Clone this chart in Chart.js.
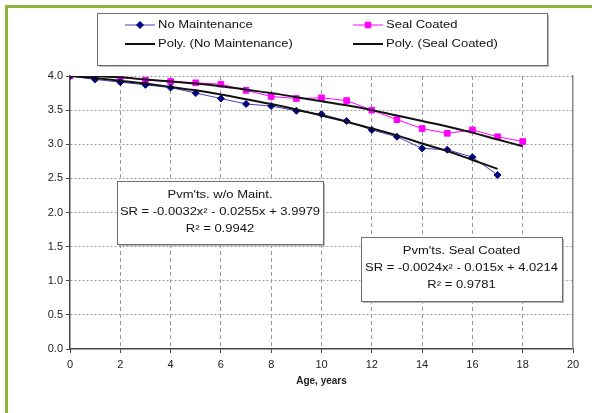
<!DOCTYPE html>
<html>
<head>
<meta charset="utf-8">
<script src="https://cdn.jsdelivr.net/npm/chart.js@4/dist/chart.umd.min.js"></script>
<style>
  html, body { margin: 0; padding: 0; background: #fff; }
  #wrap { position: relative; width: 592px; height: 413px; overflow: hidden; }
  #frame { position: absolute; left: 5px; top: 5px; right: 0; bottom: 0; border-top: 3px solid #8cb43c; border-left: 3px solid #8cb43c; }
  #chart { position: absolute; left: 0; top: 0; }
</style>
</head>
<body>
<div id="wrap">
  <div id="frame"></div>
  <canvas id="chart" width="592" height="413"></canvas>
</div>
<script>
// values
const years = [0, 1, 2, 3, 4, 5, 6, 7, 8, 9, 10, 11, 12, 13, 14, 15, 16, 17, 18];
const noMaint = [4.00, 3.95, 3.91, 3.87, 3.83, 3.75, 3.67, 3.59, 3.56, 3.49, 3.44, 3.34, 3.21, 3.11, 2.94, 2.92, 2.81, 2.55];
const sealCoated = [4.00, 4.00, 3.98, 3.94, 3.92, 3.90, 3.88, 3.79, 3.70, 3.67, 3.68, 3.64, 3.50, 3.36, 3.23, 3.16, 3.21, 3.11, 3.04];
const polyNoMaint = [4.00, 3.97, 3.93, 3.89, 3.84, 3.79, 3.73, 3.66, 3.59, 3.51, 3.42, 3.33, 3.23, 3.13, 3.01, 2.90, 2.77, 2.64];
const polySeal = [4.02, 4.00, 3.98, 3.95, 3.92, 3.89, 3.85, 3.80, 3.75, 3.69, 3.63, 3.57, 3.50, 3.42, 3.34, 3.26, 3.17, 3.07, 2.97];

const seriesNames = ['No Maintenance', 'Seal Coated', 'Poly. (No Maintenance)', 'Poly. (Seal Coated)'];
const noteNoMaint = ["Pvm'ts. w/o Maint.", 'SR = -0.0032x² - 0.0255x + 3.9979', 'R² = 0.9942'];
const noteSeal = ["Pvm'ts. Seal Coated", 'SR = -0.0024x² - 0.015x + 4.0214', 'R² = 0.9781'];

const FONT = "'Liberation Sans', Arial, sans-serif";
const toPoints = vals => vals.map((v, i) => ({ x: years[i], y: v }));

function wideText(ctx, text, x, y) {
  ctx.save();
  ctx.translate(x, y);
  ctx.scale(1.3, 1);
  ctx.fillText(text, 0, 0);
  ctx.restore();
}

function drawBox(ctx, x, y, w, h) {
  ctx.save();
  ctx.fillStyle = '#b8b8b8';
  ctx.fillRect(x + 2, y + 2, w, h);
  ctx.fillStyle = '#fff';
  ctx.fillRect(x, y, w, h);
  ctx.strokeStyle = '#6e6e6e';
  ctx.lineWidth = 1;
  ctx.strokeRect(x + 0.5, y + 0.5, w, h);
  ctx.restore();
}

const extras = {
  id: 'extras',
  afterDraw(chart) {
    const ctx = chart.ctx;
    const ds = chart.data.datasets;

    // legend, 2 x 2
    drawBox(ctx, 97, 13, 450, 52);
    const slots = [
      { d: ds[0], x: 125, y: 25 },
      { d: ds[1], x: 353, y: 25 },
      { d: ds[2], x: 125, y: 44 },
      { d: ds[3], x: 353, y: 44 }
    ];
    ctx.save();
    ctx.font = '10px ' + FONT;
    ctx.textBaseline = 'middle';
    ctx.textAlign = 'left';
    slots.forEach(s => {
      const d = s.d;
      ctx.strokeStyle = d.borderColor;
      ctx.lineWidth = d.borderWidth;
      ctx.beginPath();
      ctx.moveTo(s.x, s.y);
      ctx.lineTo(s.x + 30, s.y);
      ctx.stroke();
      if (d.pointRadius > 0) {
        ctx.fillStyle = d.pointBackgroundColor;
        ctx.strokeStyle = d.pointBorderColor;
        Chart.helpers.drawPoint(ctx, { pointStyle: d.pointStyle, radius: d.pointRadius, rotation: 0, borderWidth: 1 }, s.x + 15, s.y);
      }
      ctx.fillStyle = '#111';
      wideText(ctx, d.label, s.x + 33, s.y);
    });
    ctx.restore();

    // equation notes
    const notes = [
      { lines: noteNoMaint, x: 117, y: 181, w: 206, h: 63, ys: [195, 212, 229] },
      { lines: noteSeal, x: 361, y: 237, w: 201, h: 64, ys: [251, 268, 285] }
    ];
    ctx.save();
    ctx.font = '10px ' + FONT;
    ctx.textBaseline = 'middle';
    ctx.textAlign = 'center';
    notes.forEach(n => {
      drawBox(ctx, n.x, n.y, n.w, n.h);
      ctx.fillStyle = '#111';
      n.lines.forEach((t, i) => wideText(ctx, t, n.x + n.w / 2, n.ys[i]));
    });
    ctx.restore();
  }
};

const hidden = 'rgba(0,0,0,0)';

new Chart(document.getElementById('chart'), {
  type: 'line',
  data: {
    datasets: [
      {
        label: seriesNames[0],
        data: toPoints(noMaint),
        borderColor: '#4343b8',
        borderWidth: 1,
        pointStyle: 'rectRot',
        pointRadius: 3.5,
        pointBackgroundColor: '#000080',
        pointBorderColor: '#000080',
        tension: 0,
        order: 2
      },
      {
        label: seriesNames[1],
        data: toPoints(sealCoated),
        borderColor: '#ff00ff',
        borderWidth: 1,
        pointStyle: 'rect',
        pointRadius: 4,
        pointBackgroundColor: '#ff00ff',
        pointBorderColor: '#ff00ff',
        tension: 0,
        order: 2
      },
      {
        label: seriesNames[2],
        data: toPoints(polyNoMaint),
        borderColor: '#111',
        borderWidth: 2,
        pointRadius: 0,
        tension: 0.4,
        order: 1
      },
      {
        label: seriesNames[3],
        data: toPoints(polySeal),
        borderColor: '#111',
        borderWidth: 2,
        pointRadius: 0,
        tension: 0.4,
        order: 1
      }
    ]
  },
  options: {
    responsive: false,
    animation: false,
    layout: { padding: { top: 76, right: 19, bottom: 20, left: 0 } },
    plugins: {
      legend: { display: false },
      tooltip: { enabled: false }
    },
    scales: {
      x: {
        type: 'linear',
        min: 0,
        max: 20,
        ticks: { stepSize: 2, padding: 5, color: '#222', font: { family: FONT, size: 11 } },
        grid: {
          color: c => (c.tick.value === 0 || c.tick.value === 20) ? hidden : '#9a9a9a',
          tickColor: '#444',
          tickLength: 4
        },
        border: { color: '#444', width: 1.5, dash: [4, 3] },
        title: {
          display: true,
          text: 'Age, years',
          color: '#222',
          font: { family: FONT, size: 10, weight: 'bold' },
          padding: { top: 0, bottom: 6 }
        },
        afterFit(s) { s.height = 44; }
      },
      y: {
        min: 0,
        max: 4,
        ticks: { stepSize: 0.5, padding: 3, color: '#222', font: { family: FONT, size: 11 }, callback: v => v.toFixed(1) },
        grid: {
          color: c => c.tick.value === 0 ? hidden : '#9a9a9a',
          tickColor: '#444',
          tickLength: 4
        },
        border: { color: '#444', width: 1.5, dash: [2, 2] },
        afterFit(s) { s.width = 70; }
      },
      y2: {
        position: 'right',
        min: 0,
        max: 4,
        ticks: { display: false },
        grid: { drawOnChartArea: false, drawTicks: false },
        border: { color: '#8a8a8a', width: 1.5 },
        afterFit(s) { s.width = 0; }
      }
    }
  },
  plugins: [extras]
});
</script>
</body>
</html>
